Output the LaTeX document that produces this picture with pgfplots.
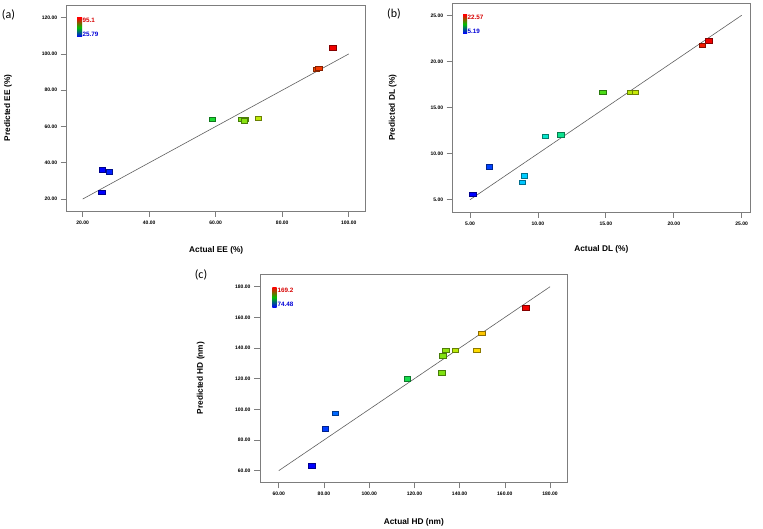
\documentclass[border=0pt]{standalone}
\usepackage{fontspec}
\setmainfont{Liberation Sans}
\newfontfamily\calib{Carlito}
\usepackage{pgfplots}
\pgfplotsset{compat=1.18}
\definecolor{framegray}{RGB}{125,125,125}
\definecolor{linegray}{RGB}{95,95,95}
\definecolor{lred}{RGB}{215,0,0}
\definecolor{lblue}{RGB}{0,0,215}
\pgfdeclareplotmark{drect}{\pgfpathrectangle{\pgfqpoint{-3.3pt}{-2.2pt}}{\pgfqpoint{6.6pt}{4.4pt}}\pgfusepathqfillstroke}
\pgfplotsset{
  de/.style={
    scale only axis, anchor=south west,
    axis line style={draw=framegray, line width=0.8pt},
    tick style={draw=framegray, line width=0.7pt},
    tick align=outside, major tick length=6pt,
    xtick pos=left, ytick pos=left,
    ticklabel style={font=\fontsize{5}{5}\selectfont\bfseries},
    /pgf/number format/fixed, /pgf/number format/fixed zerofill,
    /pgf/number format/precision=2, /pgf/number format/assume math mode=true,
    label style={font=\fontsize{8.3}{9}\selectfont\bfseries},
    colormap={demap}{rgb255(0cm)=(0,0,255) rgb255(1cm)=(0,235,255) rgb255(2cm)=(30,215,30) rgb255(3cm)=(255,240,0) rgb255(4cm)=(240,0,0)},
    scatter/use mapped color={draw=mapped color!55!black, fill=mapped color},
  },
  pts/.style={scatter, only marks, mark=drect, point meta=x, line width=0.4pt},
  fit/.style={draw=linegray, line width=0.6pt, mark=none},
}
\tikzset{key/.style={top color=red, bottom color=blue, middle color=green!75!black}}
\begin{document}
\begin{tikzpicture}
\useasboundingbox (0pt,0pt) rectangle (763pt,528pt);
% (a)
\begin{axis}[de, at={(66.7pt,317pt)}, width=299pt, height=206pt,
  xmin=15.19, xmax=105.1, ymin=13.4, ymax=127.0,
  xtick={20,40,60,80,100}, ytick={20,40,60,80,100,120},
  point meta min=25.79, point meta max=95.1,
  xlabel={Actual EE (\%)}, ylabel={Predicted EE (\%)},
  xlabel style={at={(axis description cs:0.5,-0.189)}, anchor=center},
  ylabel style={at={(axis description cs:-0.196,0.5)}, anchor=center}]
\addplot[fit] coordinates {(20,20) (100,100)};
\addplot[pts] table {
x y
95.1 103.4
90.2 91.6
91.0 92.3
59.0 63.9
67.8 63.9
68.9 63.9
68.6 63.1
72.8 64.5
25.9 36.1
28.0 35.0
25.79 23.9
};
\end{axis}
% (b)
\begin{axis}[de, at={(452.7pt,316pt)}, width=297.3pt, height=208.7pt,
  xmin=3.73, xmax=25.61, ymin=3.67, ymax=26.3,
  xtick={5,10,15,20,25}, ytick={5,10,15,20,25},
  point meta min=5.19, point meta max=22.57,
  xlabel={Actual DL (\%)}, ylabel={Predicted DL (\%)},
  xlabel style={at={(axis description cs:0.5,-0.179)}, anchor=center},
  ylabel style={at={(axis description cs:-0.202,0.5)}, anchor=center}]
\addplot[fit] coordinates {(5,5) (25,25)};
\addplot[pts] table {
x y
22.57 22.25
22.1 21.78
14.77 16.65
16.83 16.65
17.17 16.65
10.55 11.9
11.7 12.05
6.42 8.58
8.98 7.6
8.85 6.89
5.19 5.62
};
\end{axis}
% (c)
\begin{axis}[de, at={(260pt,45.7pt)}, width=307.7pt, height=208.3pt,
  xmin=51.7, xmax=187.8, ymin=52.4, ymax=188.3,
  xtick={60,80,...,180}, ytick={60,80,...,180},
  point meta min=74.48, point meta max=169.2,
  xlabel={Actual HD (nm)}, ylabel={Predicted HD (nm)},
  xlabel style={at={(axis description cs:0.5,-0.192)}, anchor=center},
  ylabel style={at={(axis description cs:-0.193,0.5)}, anchor=center}]
\addplot[fit] coordinates {(60,60) (180,180)};
\addplot[pts] table {
x y
169.2 166.2
149.8 149.7
147.6 138.6
138.1 138.6
133.9 138.6
132.4 134.9
132.1 123.8
116.8 119.9
85.0 97.6
80.6 87.4
74.48 63.3
};
\end{axis}
% panel letters
\node[font=\calib\fontsize{12}{12}\selectfont] at (8.5pt,513pt) {(a)};
\node[font=\calib\fontsize{12}{12}\selectfont] at (394pt,514pt) {(b)};
\node[font=\calib\fontsize{12}{12}\selectfont] at (201pt,253pt) {(c)};
% colour keys
\shade[key] (77pt,491pt) rectangle (82pt,510pt);
\node[anchor=west, inner sep=0.5pt, text=lred, font=\fontsize{6.3}{6.3}\selectfont\bfseries] at (82pt,507.3pt) {95.1};
\node[anchor=west, inner sep=0.5pt, text=lblue, font=\fontsize{6.3}{6.3}\selectfont\bfseries] at (82pt,493.3pt) {25.79};
\shade[key] (463pt,494.7pt) rectangle (467pt,513pt);
\node[anchor=west, inner sep=0.5pt, text=lred, font=\fontsize{6.3}{6.3}\selectfont\bfseries] at (467pt,510.7pt) {22.57};
\node[anchor=west, inner sep=0.5pt, text=lblue, font=\fontsize{6.3}{6.3}\selectfont\bfseries] at (467pt,496.3pt) {5.19};
\shade[key] (272.3pt,220.7pt) rectangle (276.7pt,240.7pt);
\node[anchor=west, inner sep=0.5pt, text=lred, font=\fontsize{6.3}{6.3}\selectfont\bfseries] at (277pt,238pt) {169.2};
\node[anchor=west, inner sep=0.5pt, text=lblue, font=\fontsize{6.3}{6.3}\selectfont\bfseries] at (277pt,224pt) {74.48};
\end{tikzpicture}
\end{document}
